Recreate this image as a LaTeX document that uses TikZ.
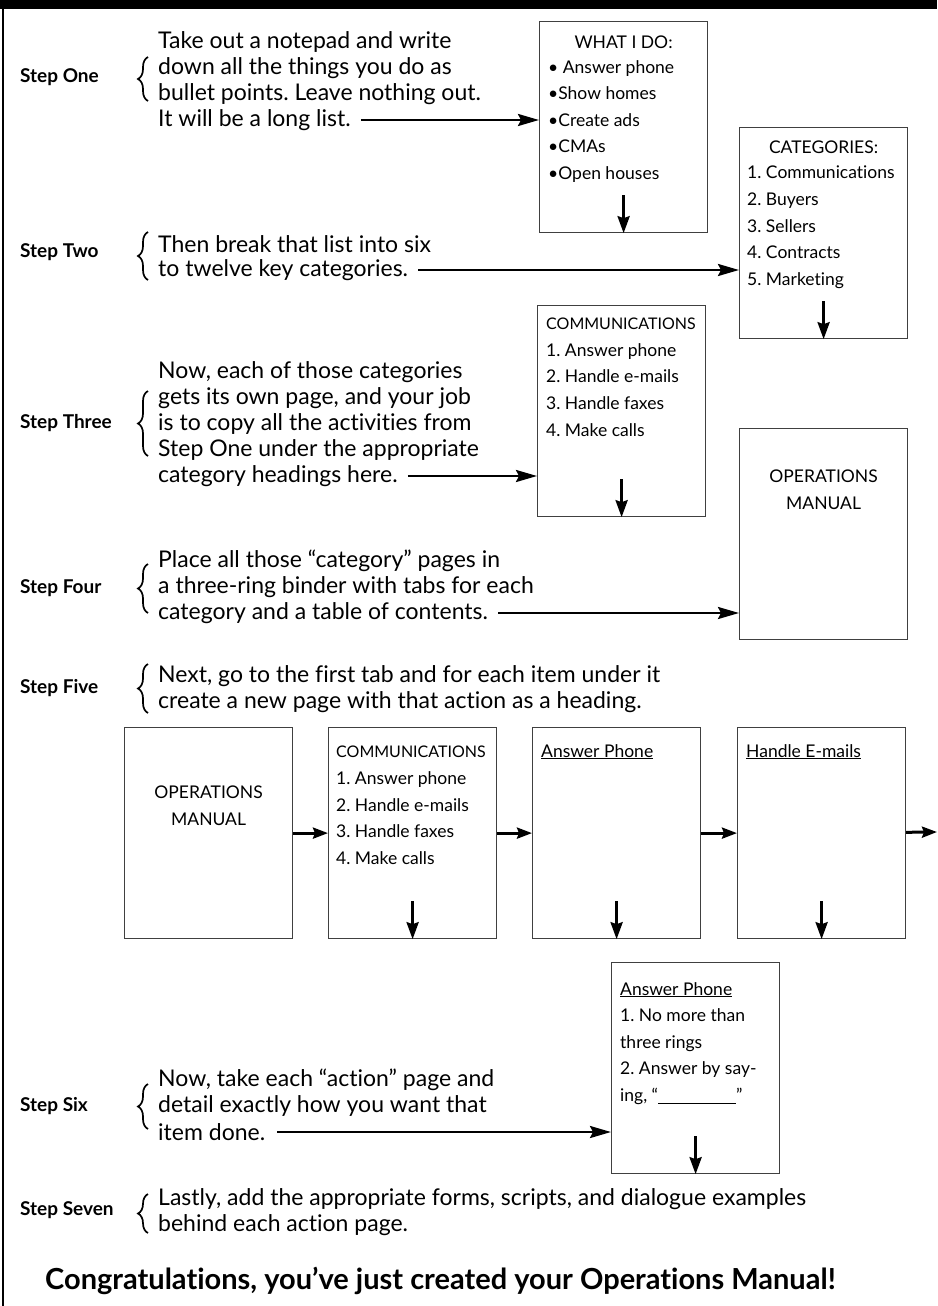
\documentclass[tikz,border=0pt]{standalone}
\usepackage{fontspec}
\setmainfont{Lato}[Ligatures={NoCommon,NoContextual}]
\usetikzlibrary{arrows.meta, positioning, calc, decorations.pathreplacing}
\frenchspacing

\begin{document}
\begin{tikzpicture}[x=1pt, y=-1pt,
  page/.style={draw=black!75, line width=1.2pt, anchor=north west, inner sep=0pt,
               minimum width=168pt, minimum height=211pt},
  pgtxt/.style={align=left, inner sep=0pt, font=\fontsize{17.5}{26.6}\selectfont},
  steptxt/.style={anchor=west, align=left, inner sep=0pt, font=\fontsize{23}{26}\selectfont},
  steplbl/.style={anchor=west, inner sep=0pt, font=\fontsize{19}{22}\selectfont\bfseries},
  brc/.style={decorate, decoration={brace, amplitude=10pt, aspect=0.5}, line width=1.7pt},
  arr/.style={-{Stealth[length=21pt, width=12pt, inset=3pt]}, line width=2.5pt},
  downarr/.style={-{Stealth[length=17pt, width=12pt, inset=2pt]}, line width=3pt},
  sidearr/.style={-{Stealth[length=15pt, width=11pt, inset=2pt]}, line width=3pt}
]
\useasboundingbox (0,0) rectangle (937,1306);
\fill (0,0) rectangle (937,9);
\draw[line width=1.5pt] (3,9) -- (3,1306);

% step one
\node[steplbl] (s1) at (20,77) {Step One};
\draw[brc] (148,101) -- (148,57);
\node[steptxt] (t1) at (158,68) {Take out a notepad and write\\down all the things you do as\\bullet points. Leave nothing out.};
\node[steptxt] (t1e) at (158,120) {It will be a long list.};
\node[page] (what) at (539,21) {};
\node[pgtxt] (whathd) at ([yshift=-21pt]what.north) {WHAT I DO:};
\node[pgtxt, anchor=north west] (whatls) at ([xshift=9pt, yshift=-39pt]what.north west)
  {• Answer phone\\•Show homes\\•Create ads\\•CMAs\\•Open houses};
\draw[arr] ([xshift=10pt]t1e.east) -- (t1e.east -| what.west);
\draw[downarr] ([yshift=38pt]what.south) -- (what.south);

% step two
\node[steplbl] (s2) at (20,252) {Step Two};
\draw[brc] (148,280) -- (148,232);
\node[steptxt] (t2) at (158,244) {Then break that list into six};
\node[steptxt] (t2e) at (158,270) {to twelve key categories.};
\node[page] (cats) at (739,127) {};
\node[pgtxt] (catshd) at ([yshift=-20pt]cats.north) {CATEGORIES:};
\node[pgtxt, anchor=north west] (catsls) at ([xshift=8pt, yshift=-39pt]cats.north west)
  {1. Communications\\2. Buyers\\3. Sellers\\4. Contracts\\5. Marketing};
\draw[arr] ([xshift=10pt]t2e.east) -- (t2e.east -| cats.west);
\draw[downarr] ([yshift=38pt]cats.south) -- (cats.south);

% step three
\node[steplbl] (s3) at (20,423) {Step Three};
\draw[brc] (148,456) -- (148,391);
\node[steptxt] (t3) at (158,410.5) {Now, each of those categories\\gets its own page, and your job\\is to copy all the activities from\\Step One under the appropriate};
\node[steptxt] (t3e) at (158,476) {category headings here.};
\node[page] (comm) at (537,305) {};
\node[pgtxt, anchor=north west] (commls) at ([xshift=9pt, yshift=-13pt]comm.north west)
  {{\fontsize{16}{26.6}\selectfont COMMUNICATIONS}\\1. Answer phone\\2. Handle e-mails\\3. Handle faxes\\4. Make calls};
\draw[arr] ([xshift=10pt]t3e.east) -- (t3e.east -| comm.west);
\draw[downarr] ([yshift=38pt]comm.south) -- (comm.south);

% step four
\node[steplbl] (s4) at (20,588) {Step Four};
\draw[brc] (148,613) -- (148,564);
\node[steptxt] (t4) at (158,574) {Place all those “category” pages in\\a three-ring binder with tabs for each};
\node[steptxt] (t4e) at (158,613) {category and a table of contents.};
\node[page] (ops) at (739,428) {};
\node[pgtxt, align=center] (opshd) at ([yshift=-61.5pt]ops.north) {OPERATIONS\\MANUAL};
\draw[arr] ([xshift=10pt]t4e.east) -- (t4e.east -| ops.west);

% step five
\node[steplbl] (s5) at (20,688) {Step Five};
\draw[brc] (148,713) -- (148,664);
\node[steptxt] (t5) at (158,689) {Next, go to the first tab and for each item under it\\create a new page with that action as a heading.};
\node[page] (p1) at (124,727) {};
\node[page] (p2) at (328,727) {};
\node[page] (p3) at (532,727) {};
\node[page] (p4) at (737,727) {};
\coordinate (pend) at (937,832);
\node[pgtxt, align=center] (p1hd) at ([yshift=-78.5pt]p1.north) {OPERATIONS\\MANUAL};
\node[pgtxt, anchor=north west] (p2ls) at ([xshift=8pt, yshift=-19pt]p2.north west)
  {{\fontsize{16}{26.6}\selectfont COMMUNICATIONS}\\1. Answer phone\\2. Handle e-mails\\3. Handle faxes\\4. Make calls};
\node[pgtxt, anchor=north west] (p3hd) at ([xshift=9pt, yshift=-17pt]p3.north west) {\underline{Answer Phone}};
\node[pgtxt, anchor=north west] (p4hd) at ([xshift=9pt, yshift=-17pt]p4.north west) {\underline{Handle E-mails}};
\draw[sidearr] (p1) -- (p2);
\draw[sidearr] (p2) -- (p3);
\draw[sidearr] (p3) -- (p4);
\draw[sidearr] (p4) -- (pend);
\foreach \p in {p2,p3,p4}
  \draw[downarr] ([yshift=38pt]\p.south) -- (\p.south);

% step six
\node[steplbl] (s6) at (20,1106) {Step Six};
\draw[brc] (148,1129) -- (148,1084);
\node[steptxt] (t6) at (158,1093) {Now, take each “action” page and\\detail exactly how you want that};
\node[steptxt] (t6e) at (158,1132) {item done.};
\node[page] (act) at (611,962) {};
\node[pgtxt, anchor=north west] (actls) at ([xshift=9pt, yshift=-20pt]act.north west)
  {\underline{Answer Phone}\\1. No more than\\three rings\\2. Answer by say-\\ing, “\underline{\hspace{78pt}}”};
\draw[arr] ([xshift=12pt]t6e.east) -- (t6e.east -| act.west);
\draw[downarr] ([yshift=38pt]act.south) -- (act.south);

% step seven
\node[steplbl] (s7) at (20,1210) {Step Seven};
\draw[brc] (148,1233) -- (148,1194);
\node[steptxt] (t7) at (158,1212.5) {Lastly, add the appropriate forms, scripts, and dialogue examples\\behind each action page.};

\node[anchor=west, inner sep=0pt, font=\fontsize{29}{32}\selectfont\bfseries] (congrats) at (45,1281)
  {Congratulations, you’ve just created your Operations Manual!};
\end{tikzpicture}
\end{document}
